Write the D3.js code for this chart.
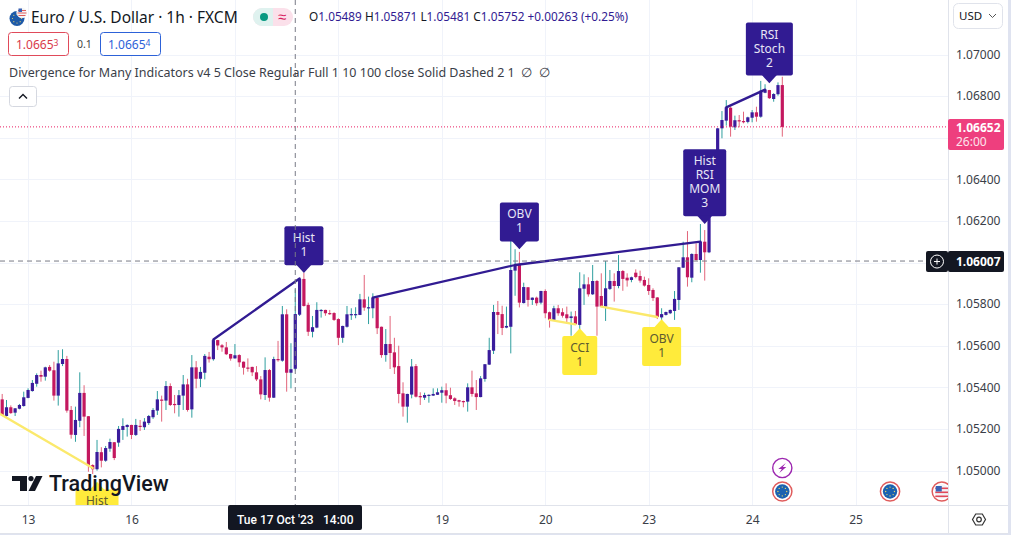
<!DOCTYPE html>
<html>
<head>
<meta charset="utf-8">
<title>EUR/USD 1h</title>
<script src="https://cdn.jsdelivr.net/npm/d3@7"></script>
<style>
  html, body { margin: 0; padding: 0; background: #fff; overflow: hidden; }
  svg { display: block; }
  text { font-family: "Noto Sans", sans-serif; }
</style>
</head>
<body>
<div id="chart"></div>
<script>
// hourly bars
var opens = [
  1.05342,1.05262,1.05304,1.05278,1.05297,1.05310,1.05349,1.05382,1.05417,1.05459,
  1.05451,1.05498,1.05482,1.05360,1.05512,1.05536,1.05291,1.05171,1.05239,1.05373,
  1.05261,1.05026,1.05006,1.05088,1.05047,1.05105,1.05136,1.05134,1.05195,1.05209,
  1.05219,1.05171,1.05215,1.05208,1.05228,1.05256,1.05288,1.05341,1.05336,1.05406,
  1.05320,1.05315,1.05360,1.05414,1.05294,1.05496,1.05441,1.05470,1.05547,1.05535,
  1.05627,1.05602,1.05592,1.05560,1.05539,1.05555,1.05523,1.05495,1.05498,1.05472,
  1.05438,1.05363,1.05483,1.05350,1.05536,1.05528,1.05751,1.05470,1.05489,1.05749,
  1.05921,1.05796,1.05667,1.05687,1.05768,1.05772,1.05757,1.05757,1.05728,1.05638,
  1.05691,1.05749,1.05749,1.05748,1.05823,1.05781,1.05780,1.05831,1.05691,1.05555,
  1.05608,1.05568,1.05502,1.05371,1.05307,1.05365,1.05502,1.05358,1.05350,1.05362,
  1.05360,1.05364,1.05374,1.05386,1.05362,1.05347,1.05338,1.05334,1.05331,1.05400,
  1.05371,1.05353,1.05440,1.05509,1.05576,1.05762,1.05752,1.05687,1.05691,1.05961,
  1.05988,1.05805,1.05881,1.05820,1.05831,1.05807,1.05863,1.05761,1.05724,1.05780,
  1.05761,1.05751,1.05733,1.05741,1.05700,1.05874,1.05895,1.05847,1.05911,1.05839,
  1.05788,1.05873,1.05911,1.05887,1.05959,1.05927,1.05916,1.05951,1.05935,1.05916,
  1.05892,1.05868,1.05832,1.05736,1.05748,1.05756,1.05767,1.05820,1.05975,1.06025,
  1.05927,1.06041,1.06012,1.06100,1.06049,1.06277,1.06435,1.06645,1.06682,1.06744,
  1.06650,1.06684,1.06680,1.06676,1.06696,1.06722,1.06701,1.06816,1.06829,1.06786,1.06809,1.06853
];
var highs = [
  1.05368,1.05339,1.05313,1.05300,1.05320,1.05379,1.05395,1.05435,1.05467,1.05480,
  1.05499,1.05507,1.05523,1.05579,1.05583,1.05551,1.05310,1.05307,1.05472,1.05410,
  1.05262,1.05030,1.05147,1.05112,1.05118,1.05153,1.05137,1.05214,1.05251,1.05222,
  1.05220,1.05248,1.05243,1.05252,1.05267,1.05300,1.05382,1.05360,1.05430,1.05419,
  1.05363,1.05387,1.05459,1.05441,1.05555,1.05526,1.05498,1.05560,1.05570,1.05630,
  1.05628,1.05608,1.05618,1.05561,1.05608,1.05559,1.05524,1.05539,1.05499,1.05502,
  1.05454,1.05544,1.05488,1.05547,1.05623,1.05791,1.05775,1.05612,1.05871,1.05923,
  1.05950,1.05807,1.05743,1.05809,1.05776,1.05773,1.05772,1.05761,1.05732,1.05696,
  1.05791,1.05780,1.05785,1.05849,1.05940,1.05836,1.05852,1.05840,1.05692,1.05680,
  1.05743,1.05638,1.05600,1.05424,1.05369,1.05536,1.05512,1.05376,1.05374,1.05366,
  1.05395,1.05395,1.05403,1.05419,1.05398,1.05352,1.05340,1.05336,1.05419,1.05480,
  1.05435,1.05454,1.05512,1.05638,1.05796,1.05815,1.05792,1.05788,1.06118,1.06064,
  1.06051,1.05903,1.05882,1.05832,1.05836,1.05864,1.05871,1.05764,1.05792,1.05796,
  1.05780,1.05788,1.05764,1.05767,1.05953,1.05943,1.05929,1.05988,1.05916,1.05948,
  1.06007,1.05964,1.05948,1.06036,1.05964,1.05948,1.05932,1.05967,1.05961,1.05932,
  1.05924,1.05876,1.05834,1.05780,1.05764,1.05774,1.05863,1.05978,1.06100,1.06151,
  1.06044,1.06092,1.06185,1.06156,1.06280,1.06438,1.06646,1.06728,1.06781,1.06749,
  1.06706,1.06709,1.06725,1.06701,1.06733,1.06749,1.06873,1.06857,1.06830,1.06814,1.06866,1.06893
];
var lows = [
  1.05262,1.05259,1.05272,1.05262,1.05294,1.05307,1.05347,1.05379,1.05403,1.05427,
  1.05432,1.05475,1.05336,1.05312,1.05502,1.05278,1.05153,1.05138,1.05208,1.05166,
  1.04994,1.04983,1.04999,1.05015,1.05042,1.05090,1.05050,1.05114,1.05147,1.05163,
  1.05151,1.05166,1.05190,1.05195,1.05219,1.05248,1.05267,1.05235,1.05291,1.05310,
  1.05275,1.05259,1.05291,1.05283,1.05254,1.05395,1.05401,1.05438,1.05519,1.05528,
  1.05579,1.05571,1.05555,1.05528,1.05538,1.05498,1.05461,1.05475,1.05454,1.05430,
  1.05342,1.05339,1.05331,1.05349,1.05523,1.05523,1.05379,1.05395,1.05481,1.05743,
  1.05788,1.05647,1.05640,1.05684,1.05735,1.05744,1.05748,1.05719,1.05603,1.05614,
  1.05687,1.05724,1.05732,1.05747,1.05768,1.05704,1.05732,1.05656,1.05542,1.05523,
  1.05488,1.05464,1.05323,1.05259,1.05230,1.05347,1.05351,1.05315,1.05339,1.05326,
  1.05358,1.05363,1.05326,1.05323,1.05339,1.05315,1.05307,1.05304,1.05283,1.05355,
  1.05291,1.05352,1.05427,1.05507,1.05560,1.05656,1.05651,1.05684,1.05563,1.05840,
  1.05784,1.05803,1.05788,1.05796,1.05792,1.05799,1.05732,1.05687,1.05719,1.05744,
  1.05735,1.05708,1.05648,1.05700,1.05680,1.05796,1.05836,1.05844,1.05648,1.05785,
  1.05719,1.05868,1.05812,1.05876,1.05864,1.05884,1.05905,1.05924,1.05903,1.05884,
  1.05844,1.05815,1.05728,1.05709,1.05745,1.05752,1.05724,1.05772,1.05974,1.05884,
  1.05905,1.06009,1.05951,1.05913,1.06045,1.06275,1.06433,1.06597,1.06658,1.06605,
  1.06637,1.06650,1.06669,1.06669,1.06674,1.06677,1.06696,1.06814,1.06786,1.06773,1.06802,1.06605
];
var closes = [
  1.05267,1.05304,1.05276,1.05299,1.05315,1.05352,1.05387,1.05421,1.05459,1.05451,
  1.05496,1.05480,1.05360,1.05515,1.05536,1.05288,1.05172,1.05243,1.05373,1.05259,
  1.05026,1.05006,1.05089,1.05047,1.05108,1.05137,1.05060,1.05200,1.05214,1.05219,
  1.05171,1.05219,1.05211,1.05235,1.05262,1.05291,1.05342,1.05338,1.05406,1.05315,
  1.05316,1.05362,1.05414,1.05291,1.05496,1.05441,1.05474,1.05551,1.05535,1.05627,
  1.05601,1.05592,1.05559,1.05538,1.05554,1.05520,1.05494,1.05493,1.05472,1.05438,
  1.05366,1.05483,1.05350,1.05536,1.05530,1.05751,1.05470,1.05487,1.05752,1.05921,
  1.05791,1.05667,1.05689,1.05772,1.05772,1.05756,1.05754,1.05724,1.05638,1.05695,
  1.05751,1.05752,1.05752,1.05823,1.05783,1.05785,1.05831,1.05684,1.05555,1.05608,
  1.05565,1.05496,1.05368,1.05307,1.05368,1.05500,1.05355,1.05352,1.05363,1.05364,
  1.05368,1.05376,1.05386,1.05360,1.05344,1.05334,1.05331,1.05329,1.05400,1.05368,
  1.05353,1.05443,1.05511,1.05579,1.05762,1.05748,1.05685,1.05695,1.05964,1.05988,
  1.05807,1.05882,1.05820,1.05831,1.05804,1.05863,1.05756,1.05724,1.05780,1.05756,
  1.05744,1.05732,1.05741,1.05703,1.05876,1.05895,1.05847,1.05911,1.05788,1.05788,
  1.05876,1.05911,1.05887,1.05959,1.05921,1.05914,1.05929,1.05930,1.05913,1.05889,
  1.05863,1.05829,1.05738,1.05752,1.05762,1.05772,1.05825,1.05977,1.06025,1.05929,
  1.06041,1.06012,1.06100,1.06049,1.06277,1.06435,1.06645,1.06685,1.06746,1.06653,
  1.06684,1.06679,1.06677,1.06698,1.06722,1.06701,1.06826,1.06831,1.06790,1.06810,1.06853,1.06652
];

var priceTicks = [1.05000, 1.05200, 1.05400, 1.05600, 1.05800, 1.06200, 1.06400, 1.06800, 1.07000];
var gridPrices = [1.05000, 1.05200, 1.05400, 1.05600, 1.05800, 1.06000, 1.06200, 1.06400, 1.06600, 1.06800, 1.07000];
var dayBars = [6, 30, 54, 78, 102, 126, 150, 174, 198];
var dayLabels = ["13", "16", "17", "18", "19", "20", "23", "24", "25"];

// divergence lines: from bar, from price, to bar, to price
var purpleFrom = [49, 86, 119, 168];
var purpleFromPrice = [1.05630, 1.05831, 1.05988, 1.06746];
var purpleTo = [69, 119, 162, 177];
var purpleToPrice = [1.05923, 1.05988, 1.06100, 1.06831];
var yellowFrom = [-1, 127, 139];
var yellowFromPrice = [1.05278, 1.05724, 1.05788];
var yellowTo = [21, 133, 152];
var yellowToPrice = [1.05012, 1.05703, 1.05738];

// signal labels
var bearBars = [70, 120, 163, 178];
var bearPrices = [1.05950, 1.06064, 1.06185, 1.06862];
var bearTexts = [["Hist", "1"], ["OBV", "1"], ["Hist", "RSI", "MOM", "3"], ["RSI", "Stoch", "2"]];
var bullBars = [22, 134, 153];
var bullPrices = [1.04946, 1.05684, 1.05727];
var bullTexts = [["Hist"], ["CCI", "1"], ["OBV", "1"]];

var eventBars = [181, 206, 218];
var eventFlags = ["eu", "eu", "us"];

var lastPrice = 1.06652;
var crossPrice = 1.06007;
var crossBar = 68;

var svgWidth = 1011;
var svgHeight = 535;
var plotRight = 948;
var plotBottom = 505;

var svg = d3.select("#chart").append("svg")
  .attr("width", svgWidth)
  .attr("height", svgHeight)
  .style("background", "#fff");

var x = d3.scaleLinear().domain([0, 181]).range([2.2, 782.3]);
var y = d3.scaleLinear().domain([1.05, 1.07]).range([470.5, 54.5]);

svg.append("defs").append("clipPath").attr("id", "plot")
  .append("rect").attr("width", plotRight).attr("height", plotBottom);

var plot = svg.append("g").attr("clip-path", "url(#plot)");

// grid
plot.selectAll(".gy").data(gridPrices).enter().append("line")
  .attr("x1", 0).attr("x2", plotRight)
  .attr("y1", d => Math.round(y(d)) + 0.5).attr("y2", d => Math.round(y(d)) + 0.5)
  .attr("stroke", "#f0f3fa");
plot.selectAll(".gx").data(dayBars).enter().append("line")
  .attr("y1", 0).attr("y2", plotBottom)
  .attr("x1", d => Math.round(x(d)) + 0.5).attr("x2", d => Math.round(x(d)) + 0.5)
  .attr("stroke", "#f0f3fa");

// candles
var upBody = "#3a1c9c", upWick = "#2f9f9f", downBody = "#c4185f", downWick = "#e2647a";
var bars = plot.selectAll(".bar").data(opens).enter().append("g");
bars.append("line")
  .attr("x1", (d, i) => x(i)).attr("x2", (d, i) => x(i))
  .attr("y1", (d, i) => y(highs[i])).attr("y2", (d, i) => y(lows[i]))
  .attr("stroke", (d, i) => closes[i] >= d ? upWick : downWick)
  .attr("stroke-width", 1);
bars.append("rect")
  .attr("x", (d, i) => x(i) - 1.6)
  .attr("width", 3.2)
  .attr("y", (d, i) => y(Math.max(d, closes[i])))
  .attr("height", (d, i) => Math.max(1.2, Math.abs(y(d) - y(closes[i]))))
  .attr("fill", (d, i) => closes[i] >= d ? upBody : downBody);

// divergence lines
function drawLines(from, fromP, to, toP, color) {
  plot.selectAll(".l" + color.slice(1)).data(from).enter().append("line")
    .attr("x1", d => x(d)).attr("y1", (d, i) => y(fromP[i]))
    .attr("x2", (d, i) => x(to[i])).attr("y2", (d, i) => y(toP[i]))
    .attr("stroke", color).attr("stroke-width", 2.3).attr("stroke-linecap", "round");
}
drawLines(yellowFrom, yellowFromPrice, yellowTo, yellowToPrice, "#fbe96c");
drawLines(purpleFrom, purpleFromPrice, purpleTo, purpleToPrice, "#311b92");

// crosshair and last price line
plot.append("line")
  .attr("x1", 0).attr("x2", plotRight).attr("y1", y(lastPrice)).attr("y2", y(lastPrice))
  .attr("stroke", "#e91e63").attr("stroke-dasharray", "1 2");
plot.append("line")
  .attr("x1", 0).attr("x2", plotRight).attr("y1", y(crossPrice)).attr("y2", y(crossPrice))
  .attr("stroke", "#787b86").attr("stroke-dasharray", "5 4");
svg.append("line")
  .attr("y1", 0).attr("y2", plotBottom).attr("x1", x(crossBar)).attr("x2", x(crossBar))
  .attr("stroke", "#787b86").attr("stroke-dasharray", "5 4");

// logo under the labels
var logo = svg.append("g").attr("fill", "#131722");
logo.append("path").attr("d", "M12 476H27V491H20V481H12Z");
logo.append("circle").attr("cx", 31).attr("cy", 478.6).attr("r", 2.6);
logo.append("path").attr("d", "M36 476H42.5L35 491H28.5Z");
logo.append("text").attr("x", 49).attr("y", 491)
  .attr("font-size", 21.5).attr("font-weight", 500).style("font-family", "Roboto")
  .text("TradingView");

// signal labels
function tag(barIdx, price, lines, bear) {
  var w = 39;
  if (lines.includes("MOM")) w = 43;
  if (lines.includes("Stoch")) w = 47;
  if (lines.includes("CCI")) w = 35;
  if (!bear && lines[0] == "Hist") w = 43;
  var lh = 14;
  var h = lines.length * lh + 11;
  var cx = x(barIdx), tipY = y(price);
  var g = plot.append("g");
  var bodyY = bear ? tipY - 7.7 - h : tipY + 7.7;
  g.append("rect").attr("x", cx - w / 2).attr("y", bodyY).attr("width", w).attr("height", h).attr("rx", 2)
    .attr("fill", bear ? "#311b92" : "#ffeb3b");
  g.append("path")
    .attr("d", bear
      ? `M${cx - 7.5} ${bodyY + h - 0.5}L${cx} ${tipY}L${cx + 7.5} ${bodyY + h - 0.5}Z`
      : `M${cx - 7.5} ${bodyY + 0.5}L${cx} ${tipY}L${cx + 7.5} ${bodyY + 0.5}Z`)
    .attr("fill", bear ? "#311b92" : "#ffeb3b");
  g.selectAll("text").data(lines).enter().append("text")
    .attr("x", cx).attr("y", (d, i) => bodyY + 16 + i * lh)
    .attr("text-anchor", "middle").attr("font-size", 12)
    .attr("fill", bear ? "#e8e6f5" : "#5d5a30")
    .text(d => d);
}
bearBars.forEach((b, i) => tag(b, bearPrices[i], bearTexts[i], true));
bullBars.forEach((b, i) => tag(b, bullPrices[i], bullTexts[i], false));

// event icons
function flag(g, cx, cy, kind) {
  g.append("circle").attr("cx", cx).attr("cy", cy).attr("r", 9.6)
    .attr("fill", "#fff").attr("stroke", "#e05c5c").attr("stroke-width", 1.5);
  if (kind == "eu") {
    g.append("circle").attr("cx", cx).attr("cy", cy).attr("r", 7.2).attr("fill", "#1c62b0");
    d3.range(8).forEach(k => g.append("circle")
      .attr("cx", cx + 4.4 * Math.cos(k * Math.PI / 4)).attr("cy", cy + 4.4 * Math.sin(k * Math.PI / 4))
      .attr("r", 0.7).attr("fill", "#e3d36a"));
  } else {
    g.append("circle").attr("cx", cx).attr("cy", cy).attr("r", 7.2).attr("fill", "#f2f2f5");
    [-4, 0, 4].forEach(dy => g.append("rect").attr("x", cx - 6.5).attr("y", cy + dy).attr("width", 13).attr("height", 1.6).attr("fill", "#e0485a"));
    g.append("rect").attr("x", cx - 6).attr("y", cy - 5.5).attr("width", 6).attr("height", 5.5).attr("fill", "#3a62b5");
  }
}
var icons = plot.append("g");
eventBars.forEach((b, i) => flag(icons, x(b), 491.5, eventFlags[i]));
icons.append("circle").attr("cx", x(181)).attr("cy", 468).attr("r", 9.6)
  .attr("fill", "#fff").attr("stroke", "#9c27b0").attr("stroke-width", 1.4);
icons.append("path").attr("d", `M${x(181) + 3.5} ${463}L${x(181) - 4} ${469}H${x(181) - 0.5}L${x(181) - 3} ${473}L${x(181) + 4} ${467}H${x(181) + 0.5}Z`)
  .attr("fill", "#9c27b0");

// axes
svg.append("line").attr("x1", plotRight + 0.5).attr("x2", plotRight + 0.5).attr("y1", 0).attr("y2", 533).attr("stroke", "#e0e3eb");
svg.append("line").attr("x1", 0).attr("x2", 1008).attr("y1", plotBottom + 0.5).attr("y2", plotBottom + 0.5).attr("stroke", "#e0e3eb");
svg.append("line").attr("x1", 0).attr("x2", 1008).attr("y1", 533.5).attr("y2", 533.5).attr("stroke", "#e0e3eb");
svg.append("rect").attr("x", 1008).attr("y", 0).attr("width", 3).attr("height", svgHeight).attr("fill", "#dfe3f0");
svg.append("rect").attr("x", 0).attr("y", 534).attr("width", 1011).attr("height", 1).attr("fill", "#dfe3f0");

var yAxis = svg.append("g")
  .attr("transform", `translate(${plotRight + 8},0)`)
  .call(d3.axisRight(y).tickValues(priceTicks).tickSize(0).tickPadding(0).tickFormat(d3.format(".5f")));
yAxis.select(".domain").remove();
yAxis.selectAll("text").attr("font-size", 12).style("font-family", "Noto Sans").attr("fill", "#3a3e48");

var xAxis = svg.append("g")
  .attr("transform", `translate(0,${plotBottom})`)
  .call(d3.axisBottom(x).tickValues(dayBars.filter(d => d != 54 && d != 78)).tickSize(0).tickPadding(10)
    .tickFormat(d => dayLabels[dayBars.indexOf(d)]));
xAxis.select(".domain").remove();
xAxis.selectAll("text").attr("font-size", 12).style("font-family", "Noto Sans").attr("fill", "#3a3e48");

// axis tags
svg.append("rect").attr("x", plotRight).attr("y", y(lastPrice) - 8).attr("width", 56).attr("height", 31).attr("rx", 2).attr("fill", "#ee3f7e");
svg.append("text").attr("x", plotRight + 8).attr("y", y(lastPrice) + 5.5).attr("font-size", 12).attr("font-weight", 700).attr("fill", "#fff").text(lastPrice.toFixed(5));
svg.append("text").attr("x", plotRight + 8).attr("y", y(lastPrice) + 19.5).attr("font-size", 12).attr("fill", "#fde3ec").text("26:00");

svg.append("rect").attr("x", plotRight).attr("y", y(crossPrice) - 10).attr("width", 56).attr("height", 21).attr("rx", 2).attr("fill", "#131722");
svg.append("rect").attr("x", plotRight - 22).attr("y", y(crossPrice) - 10).attr("width", 22).attr("height", 21).attr("rx", 2).attr("fill", "#131722");
svg.append("circle").attr("cx", plotRight - 11).attr("cy", y(crossPrice) + 0.5).attr("r", 6.5).attr("fill", "none").attr("stroke", "#fff");
svg.append("path").attr("d", `M${plotRight - 14} ${y(crossPrice) + 0.5}h6M${plotRight - 11} ${y(crossPrice) - 2.5}v6`).attr("stroke", "#fff");
svg.append("text").attr("x", plotRight + 8).attr("y", y(crossPrice) + 5).attr("font-size", 12).attr("font-weight", 700).attr("fill", "#fff").text(crossPrice.toFixed(5));

svg.append("rect").attr("x", 228).attr("y", plotBottom).attr("width", 134).attr("height", 25).attr("rx", 2).attr("fill", "#131722");
svg.append("text").attr("x", 237).attr("y", 524).attr("font-size", 12).attr("font-weight", 500).style("font-family", "Roboto").attr("fill", "#fff").text("Tue 17 Oct '23");
svg.append("text").attr("x", 323).attr("y", 524).attr("font-size", 12).attr("font-weight", 500).style("font-family", "Roboto").attr("fill", "#fff").text("14:00");

// USD button and settings
svg.append("rect").attr("x", 953.5).attr("y", 3.5).attr("width", 49).attr("height", 25).attr("rx", 5).attr("fill", "#fff").attr("stroke", "#e0e3eb");
svg.append("text").attr("x", 959).attr("y", 20).attr("font-size", 11.5).attr("fill", "#131722").text("USD");
svg.append("path").attr("d", "M989 14l3.5 3.5 3.5-3.5").attr("fill", "none").attr("stroke", "#555");
svg.append("path").attr("d", "M972.5 519.5l3.2-5.5h6.6l3.2 5.5-3.2 5.5h-6.6Z").attr("fill", "none").attr("stroke", "#333").attr("stroke-width", 1.2);
svg.append("circle").attr("cx", 979).attr("cy", 519.5).attr("r", 2.3).attr("fill", "none").attr("stroke", "#333").attr("stroke-width", 1.2);

// header
var head = svg.append("g");
head.append("circle").attr("cx", 17).attr("cy", 18.5).attr("r", 7.5).attr("fill", "#1e5aa8");
d3.range(8).forEach(k => head.append("circle")
  .attr("cx", 17 + 4.5 * Math.cos(k * Math.PI / 4)).attr("cy", 18.5 + 4.5 * Math.sin(k * Math.PI / 4))
  .attr("r", 0.6).attr("fill", "#e3d36a"));
head.append("circle").attr("cx", 22).attr("cy", 12.5).attr("r", 5.2).attr("fill", "#f5f5f5").attr("stroke", "#fff").attr("stroke-width", 0.8);
head.append("path").attr("d", "M18 10.5h8M17.5 13h9M18.5 15.5h7").attr("stroke", "#e05c5c").attr("stroke-width", 1);
head.append("rect").attr("x", 18.5).attr("y", 8.5).attr("width", 3.5).attr("height", 3.5).attr("fill", "#3a62b5");

head.append("text").attr("x", 31).attr("y", 22.5).attr("font-size", 15.5).attr("fill", "#131722").text("Euro / U.S. Dollar · 1h · FXCM");

head.append("rect").attr("x", 253).attr("y", 8).attr("width", 40).attr("height", 18).attr("rx", 9).attr("fill", "#fbe0ea");
head.append("path").attr("d", "M273 8H262a9 9 0 0 0 0 18H273Z").attr("fill", "#dff2ef");
head.append("circle").attr("cx", 264).attr("cy", 17).attr("r", 4).attr("fill", "#089981");
head.append("text").attr("x", 282).attr("y", 22).attr("text-anchor", "middle").attr("font-size", 15).attr("fill", "#d81b60").text("≈");

var ohlcText = [["O", "1.05489"], [" H", "1.05871"], [" L", "1.05481"], [" C", "1.05752"]];
var ohlc = head.append("text").attr("x", 309).attr("y", 21).attr("font-size", 11.8).attr("xml:space", "preserve");
ohlcText.forEach(p => {
  ohlc.append("tspan").attr("fill", "#131722").text(p[0]);
  ohlc.append("tspan").attr("fill", "#311b92").text(p[1]);
});
ohlc.append("tspan").attr("fill", "#311b92").text(" +0.00263 (+0.25%)");

head.append("rect").attr("x", 8.5).attr("y", 32.5).attr("width", 60).attr("height", 23).attr("rx", 3).attr("fill", "#fff").attr("stroke", "#e04a5a");
var sell = head.append("text").attr("x", 16).attr("y", 49).attr("font-size", 12).attr("fill", "#d83a4a");
sell.append("tspan").text("1.0665");
sell.append("tspan").attr("font-size", 8.5).attr("dy", -3).text("3");
head.append("text").attr("x", 77).attr("y", 48).attr("font-size", 10.5).attr("fill", "#444").text("0.1");
head.append("rect").attr("x", 100.5).attr("y", 32.5).attr("width", 60).attr("height", 23).attr("rx", 3).attr("fill", "#fff").attr("stroke", "#2d62d8");
var buy = head.append("text").attr("x", 108).attr("y", 49).attr("font-size", 12).attr("fill", "#2d62d8");
buy.append("tspan").text("1.0665");
buy.append("tspan").attr("font-size", 8.5).attr("dy", -3).text("4");

head.append("text").attr("x", 9).attr("y", 76.5).attr("font-size", 12.5).attr("fill", "#3a3e48").attr("xml:space", "preserve").text("Divergence for Many Indicators v4 5 Close Regular Full 1 10 100 close Solid Dashed 2 1  ∅  ∅");

head.append("rect").attr("x", 9.5).attr("y", 86.5).attr("width", 27).attr("height", 20).attr("rx", 3).attr("fill", "#fff").attr("stroke", "#d5d8e0");
head.append("path").attr("d", "M19 98.5l4-4 4 4").attr("fill", "none").attr("stroke", "#131722").attr("stroke-width", 1.4);
</script>
</body>
</html>
